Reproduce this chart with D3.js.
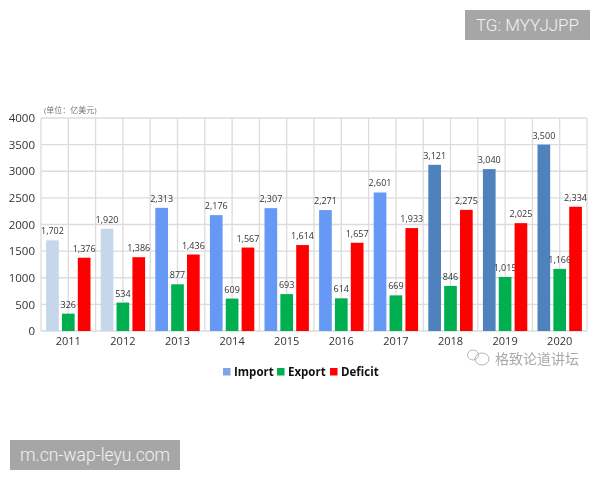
<!DOCTYPE html>
<html>
<head>
<meta charset="utf-8">
<style>
  html, body { margin: 0; padding: 0; background: #fff; }
  svg { display: block; }
  text { font-family: "Open Sans", "Noto Sans CJK SC", sans-serif; }
</style>
<script src="https://cdn.jsdelivr.net/npm/d3@7"></script>
</head>
<body>
<div id="chart"></div>
<script>
const years = ['2011', '2012', '2013', '2014', '2015', '2016', '2017', '2018', '2019', '2020'];
const importValues = [1702, 1920, 2313, 2176, 2307, 2271, 2601, 3121, 3040, 3500];
const exportValues = [326, 534, 877, 609, 693, 614, 669, 846, 1015, 1166];
const deficitValues = [1376, 1386, 1436, 1567, 1614, 1657, 1933, 2275, 2025, 2334];
const seriesNames = ['Import', 'Export', 'Deficit'];
const yTicks = [0, 500, 1000, 1500, 2000, 2500, 3000, 3500, 4000];

const width = 600;
const height = 480;
const plot = { left: 41, right: 587, top: 118, bottom: 331 };

// import bars change shade by period
const importColor = d3.scaleThreshold()
  .domain([2013, 2018])
  .range(['#c6d7ec', '#6699f5', '#4f81bd']);
const seriesColor = { Import: '#7fa6e3', Export: '#00b050', Deficit: '#ff0000' };

const svg = d3.select('#chart').append('svg')
  .attr('width', width)
  .attr('height', height);

const x = d3.scaleBand().domain(years).range([plot.left, plot.right]).paddingInner(0.187).paddingOuter(0.0935);
const xInner = d3.scaleBand().domain(seriesNames).range([0, x.bandwidth()]).paddingInner(0.2);
const y = d3.scaleLinear().domain([0, 4000]).range([plot.bottom, plot.top]);

const chartLayer = svg.append('g').style('filter', 'blur(0.35px)');

// grid: one vertical line at each category edge and one at its middle
const step = x.step();
const gridX = d3.merge(years.map(d => {
  const center = x(d) + x.bandwidth() / 2;
  return [center - step / 2, center];
})).concat([plot.right]);

chartLayer.append('g').selectAll('line').data(yTicks).join('line')
  .attr('x1', plot.left).attr('x2', plot.right)
  .attr('y1', d => y(d)).attr('y2', d => y(d))
  .attr('stroke', '#dcdcdc').attr('stroke-width', 1.3);

chartLayer.append('g').selectAll('line').data(gridX).join('line')
  .attr('x1', d => d).attr('x2', d => d)
  .attr('y1', plot.top).attr('y2', plot.bottom)
  .attr('stroke', '#dcdcdc').attr('stroke-width', 1.3);

// y axis
const yAxis = chartLayer.append('g')
  .attr('transform', `translate(${plot.left}, 0)`)
  .call(d3.axisLeft(y).tickValues(yTicks).tickFormat(d3.format('d')).tickSize(0).tickPadding(6));
yAxis.select('.domain').remove();
yAxis.selectAll('text')
  .style('font-family', '"Open Sans", sans-serif')
  .style('font-size', '11.5px')
  .attr('fill', '#333');

// x axis
const xAxis = chartLayer.append('g')
  .attr('transform', `translate(0, ${plot.bottom})`)
  .call(d3.axisBottom(x).tickSize(0).tickPadding(6));
xAxis.select('.domain').remove();
xAxis.selectAll('text')
  .style('font-family', '"Open Sans", sans-serif')
  .style('font-size', '11px')
  .attr('fill', '#333');

const rows = [
  { name: 'Import', values: importValues },
  { name: 'Export', values: exportValues },
  { name: 'Deficit', values: deficitValues }
];

rows.forEach(row => {
  const barColor = (d, i) => row.name === 'Import' ? importColor(+years[i]) : seriesColor[row.name];

  chartLayer.append('g').selectAll('rect').data(row.values).join('rect')
    .attr('x', (d, i) => x(years[i]) + xInner(row.name))
    .attr('y', d => y(d))
    .attr('width', xInner.bandwidth())
    .attr('height', d => y(0) - y(d))
    .attr('fill', barColor);

  chartLayer.append('g').selectAll('text').data(row.values).join('text')
    .attr('x', (d, i) => x(years[i]) + xInner(row.name) + xInner.bandwidth() / 2)
    .attr('y', d => y(d) - 6)
    .attr('text-anchor', 'middle')
    .attr('font-size', 9)
    .attr('fill', '#333')
    .text(d => d3.format(',')(d));
});

// unit note
chartLayer.append('text')
  .attr('x', 44).attr('y', 113)
  .attr('font-size', 8)
  .attr('fill', '#777')
  .text('(单位：亿美元)');

// legend
const legendSwatchX = { Import: 223, Export: 277, Deficit: 330 };
const legend = chartLayer.append('g').selectAll('g').data(seriesNames).join('g')
  .attr('transform', d => `translate(${legendSwatchX[d]}, 368)`);
legend.append('rect')
  .attr('width', 7.5).attr('height', 7.5)
  .attr('fill', d => seriesColor[d]);
legend.append('text')
  .attr('x', 11).attr('y', 8)
  .attr('font-size', 11.5)
  .attr('font-weight', 700)
  .attr('fill', '#111')
  .text(d => d);

// wechat mark and account name
const mark = svg.append('g').attr('fill', 'none').attr('stroke', '#b5b5b5').attr('stroke-width', 1);
mark.append('ellipse').attr('cx', 473).attr('cy', 355).attr('rx', 5.5).attr('ry', 5);
mark.append('ellipse').attr('cx', 482).attr('cy', 359).attr('rx', 7).attr('ry', 6);
svg.append('text')
  .attr('x', 495).attr('y', 364)
  .attr('font-size', 14)
  .style('font-family', '"Noto Sans CJK SC", sans-serif')
  .attr('fill', '#a8a8a8')
  .text('格致论道讲坛');

// stamps in the corners
const stamps = [
  { text: 'TG: MYYJJPP', x: 465, y: 10, w: 125, h: 30, size: 17 },
  { text: 'm.cn-wap-leyu.com', x: 10, y: 440, w: 170, h: 30, size: 17.5 }
];
const stamp = svg.append('g').selectAll('g').data(stamps).join('g')
  .attr('transform', d => `translate(${d.x}, ${d.y})`);
stamp.append('rect')
  .attr('width', d => d.w).attr('height', d => d.h)
  .attr('fill', '#a6a6a6');
stamp.append('text')
  .attr('x', d => d.w / 2).attr('y', d => d.h / 2 + 5.5)
  .attr('text-anchor', 'middle')
  .attr('font-size', d => d.size)
  .attr('font-weight', 300)
  .style('font-family', 'Roboto, sans-serif')
  .attr('fill', '#f2f2f2')
  .text(d => d.text);
</script>
</body>
</html>
